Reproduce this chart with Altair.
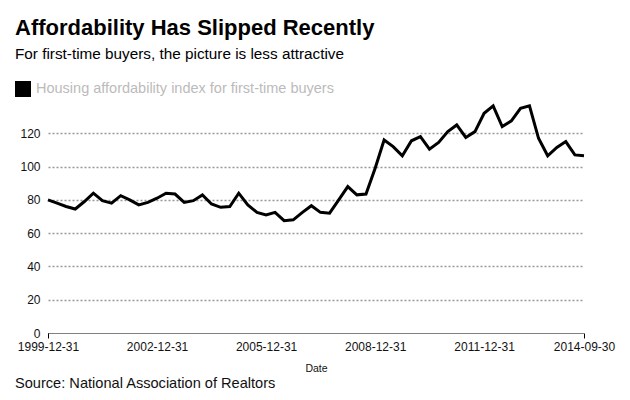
import altair as alt
import pandas as pd

title_text = "Affordability Has Slipped Recently"
subtitle_text = "For first-time buyers, the picture is less attractive"
series_label = "Housing affordability index for first-time buyers"
source_text = "Source: National Association of Realtors"

dates = ["1999-12-31"]
for yr in range(2000, 2015):
    for md in ["03-31", "06-30", "09-30", "12-31"]:
        d = f"{yr}-{md}"
        if d <= "2014-09-30":
            dates.append(d)

values = [80, 78, 76, 74.5, 79, 84, 79.5, 78, 82.5, 80,
          77, 78.5, 81, 84, 83.5, 78.5, 79.5, 83, 77.5, 75.5,
          76, 84, 77, 72.5, 71, 72.5, 67.5, 68, 72.5, 76.5,
          72.5, 72, 80, 88, 83, 83.5, 99, 116, 112, 106.5,
          115.5, 118, 110.5, 114.5, 121, 125, 117.5, 121, 132, 136.5,
          124, 127.5, 135, 136.5, 117, 106.5, 111.5, 115, 107, 106.5]

tick_dates = [(1999, 12, 31), (2002, 12, 31), (2005, 12, 31),
              (2008, 12, 31), (2011, 12, 31), (2014, 9, 30)]
y_ticks = [0, 20, 40, 60, 80, 100, 120]

df = pd.DataFrame({"Date": dates, "value": values, "series": [series_label] * len(dates)})

FONT = "Liberation Sans"

line = alt.Chart(df).mark_line(strokeWidth=3, strokeJoin="miter").encode(
    x=alt.X(
        "Date:T",
        scale=alt.Scale(type="utc", nice=False),
        axis=alt.Axis(
            values=[alt.DateTime(year=y, month=m, date=d, utc=True) for y, m, d in tick_dates],
            format="%Y-%m-%d",
            grid=False,
            ticks=True,
            tickSize=5,
            tickColor="#000",
            tickOpacity={"condition": {"test": "utcyear(datum.value) == 1999 || utcyear(datum.value) == 2014", "value": 1}, "value": 0},
            domainDash=[1, 1],
            domainColor="#000",
            labelFontSize=12,
            labelColor="#111",
            labelPadding=3,
            labelFlush=False,
            title="Date",
            titleFontSize=10.5,
            titleFontWeight="normal",
            titleColor="#111",
            titlePadding=11,
        ),
    ),
    y=alt.Y(
        "value:Q",
        scale=alt.Scale(domain=[0, 140], nice=False),
        axis=alt.Axis(
            values=y_ticks,
            title=None,
            domain=False,
            ticks=False,
            labelPadding=8,
            labelFontSize=12,
            labelColor="#111",
            gridDash=[2, 2],
            gridColor="#999",
            gridWidth=1.5,
            gridOpacity={"condition": {"test": "datum.value == 0", "value": 0}, "value": 1},
        ),
    ),
    color=alt.Color(
        "series:N",
        scale=alt.Scale(range=["#000"]),
        legend=alt.Legend(
            title=None,
            orient="none",
            legendX=-33,
            legendY=-19,
            symbolType="square",
            symbolSize=256,
            symbolFillColor="#000",
            symbolStrokeWidth=0,
            labelColor="#bbb",
            labelFontSize=14.5,
            labelLimit=500,
            labelOffset=5,
            padding=0,
        ),
    ),
)

src = alt.Chart(pd.DataFrame({"t": [source_text]})).mark_text(
    align="left", baseline="alphabetic", fontSize=14.6, color="#111", font=FONT
).encode(text="t:N", x=alt.value(-33), y=alt.value(288))

chart = alt.layer(line, src).properties(
    width=536,
    height=233,
    autosize=alt.AutoSizeParams(type="none"),
    padding={"left": 40, "top": 92, "right": 38, "bottom": 59},
    title=alt.TitleParams(
        text=title_text,
        subtitle=subtitle_text,
        anchor="start",
        frame="group",
        dx=-33,
        fontSize=22,
        fontWeight="bold",
        color="#000",
        subtitleFontSize=15.3,
        subtitleColor="#000",
        subtitlePadding=7,
        offset=18,
        font=FONT,
        subtitleFont=FONT,
    ),
).configure(font=FONT).configure_view(stroke=None)

chart.save("out.html", embed_options={"renderer": "svg", "actions": False})
